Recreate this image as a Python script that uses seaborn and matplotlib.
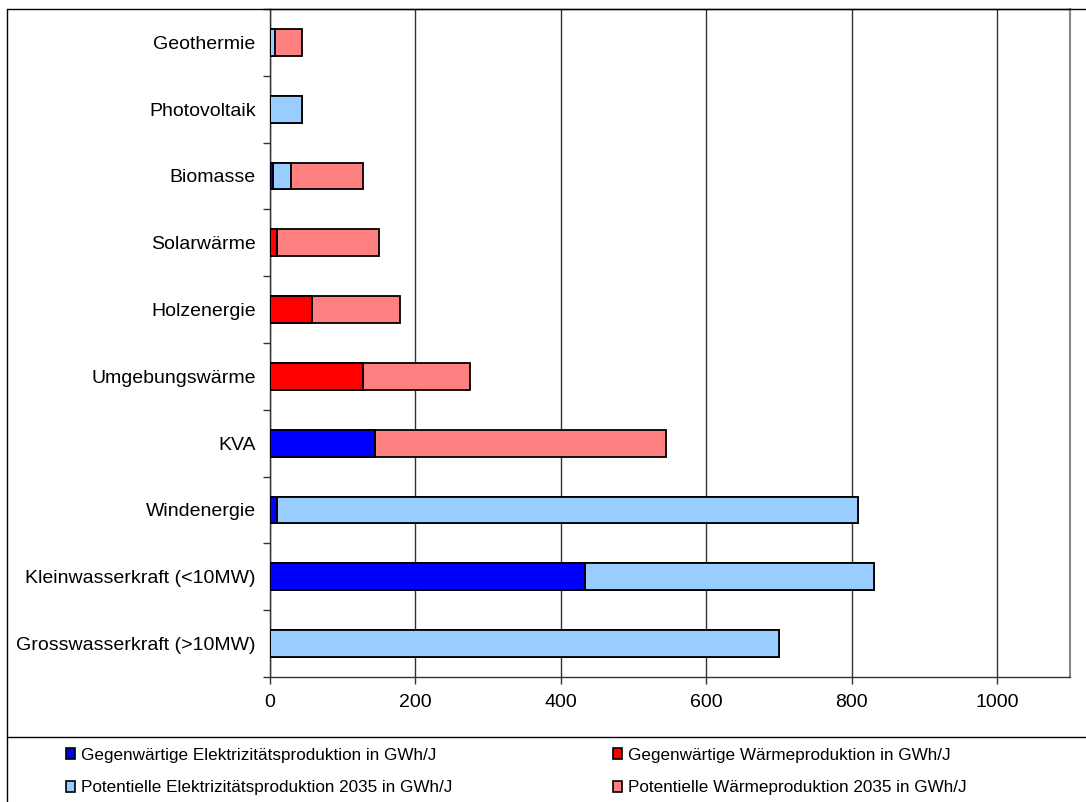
import numpy as np
import pandas as pd
import matplotlib.pyplot as plt
import seaborn as sns
from matplotlib.patches import Patch
from matplotlib.lines import Line2D

# data (GWh/J), top to bottom
categories = ['Geothermie', 'Photovoltaik', 'Biomasse', 'Solarwärme', 'Holzenergie',
              'Umgebungswärme', 'KVA', 'Windenergie', 'Kleinwasserkraft (<10MW)',
              'Grosswasserkraft (>10MW)']
elec_now = [0, 0, 5, 0, 0, 0, 145, 10, 434, 0]
heat_now = [0, 0, 0, 10, 59, 128, 0, 0, 0, 0]
elec_2035 = [7, 44, 25, 0, 0, 0, 0, 799, 397, 700]
heat_2035 = [37, 0, 98, 140, 120, 147, 400, 0, 0, 0]

series_names = ['Gegenwärtige Elektrizitätsproduktion in GWh/J',
                'Gegenwärtige Wärmeproduktion in GWh/J',
                'Potentielle Elektrizitätsproduktion 2035 in GWh/J',
                'Potentielle Wärmeproduktion 2035 in GWh/J']
colors = ['#0000ff', '#ff0000', '#99ccff', '#ff8080']
x_ticks = [0, 200, 400, 600, 800, 1000]

df = pd.DataFrame({'cat': categories, 's1': elec_now, 's2': heat_now,
                   's3': elec_2035, 's4': heat_2035})
# cumulative sums for stacking
df['c1'] = df['s1']
df['c2'] = df['c1'] + df['s2']
df['c3'] = df['c2'] + df['s3']
df['c4'] = df['c3'] + df['s4']

sns.set_style("white")
plt.rcParams['font.family'] = ['Liberation Sans', 'DejaVu Sans']
plt.rcParams['text.color'] = 'black'
plt.rcParams['xtick.color'] = 'black'
plt.rcParams['ytick.color'] = 'black'

W, H = 1086, 802
fig = plt.figure(figsize=(W / 100, H / 100), dpi=100)
ax = fig.add_axes([269.5 / W, 1 - 677 / H, (1069.8 - 269.5) / W, (677 - 9) / H])

# draw longest cumulative bar first, shorter ones on top
for col, c in zip(['c4', 'c3', 'c2', 'c1'], colors[::-1]):
    sns.barplot(data=df, x=col, y='cat', order=categories, orient='h', color=c,
                saturation=1, edgecolor='black', linewidth=1.3, width=0.4, ax=ax, zorder=3)

ax.set_xlim(0, 1100)
ax.set_ylim(9.5, -0.5)
ax.set_xticks(x_ticks)
ax.set_xticklabels([str(t) for t in x_ticks], fontsize=14)
ax.set_yticks(range(len(categories)))
ax.set_yticklabels(categories, fontsize=14)
ax.set_yticks(np.arange(-0.5, len(categories), 1), minor=True)
ax.tick_params(axis='y', which='major', length=0, pad=10)
ax.tick_params(axis='y', which='minor', length=5, width=1, color='#333333', direction='out', left=True)
ax.tick_params(axis='x', length=5, width=1, color='#333333', direction='out', bottom=True, pad=7)
ax.set_xlabel('')
ax.set_ylabel('')
ax.grid(axis='x', color='#333333', linewidth=1, zorder=0)
ax.set_axisbelow(True)
for s in ['left', 'bottom', 'top']:
    ax.spines[s].set_color('#333333')
    ax.spines[s].set_linewidth(1)
ax.spines['right'].set_color('#888888')
ax.spines['right'].set_linewidth(1.5)

# outer frame and separator line of the legend area
fy = 1 - 9 / H
fig.add_artist(Line2D([7 / W, 1], [fy, fy], color='black', lw=1, transform=fig.transFigure))
fig.add_artist(Line2D([7 / W, 7 / W], [0, fy], color='black', lw=1, transform=fig.transFigure))
sy = 1 - 737 / H
fig.add_artist(Line2D([7 / W, 1], [sy, sy], color='black', lw=1, transform=fig.transFigure))

handles = [Patch(facecolor=c, edgecolor='black', linewidth=1.2) for c in colors]
kw = dict(loc='center left', frameon=False, fontsize=12.3, handlelength=0.55, handleheight=0.55,
          handletextpad=0.35, labelspacing=1.05, borderpad=0, borderaxespad=0)
fig.legend([handles[0], handles[2]], [series_names[0], series_names[2]],
           bbox_to_anchor=(66 / W, 1 - 771.5 / H), **kw)
fig.legend([handles[1], handles[3]], [series_names[1], series_names[3]],
           bbox_to_anchor=(613 / W, 1 - 771.5 / H), **kw)

fig.savefig('out.png', dpi=100)
